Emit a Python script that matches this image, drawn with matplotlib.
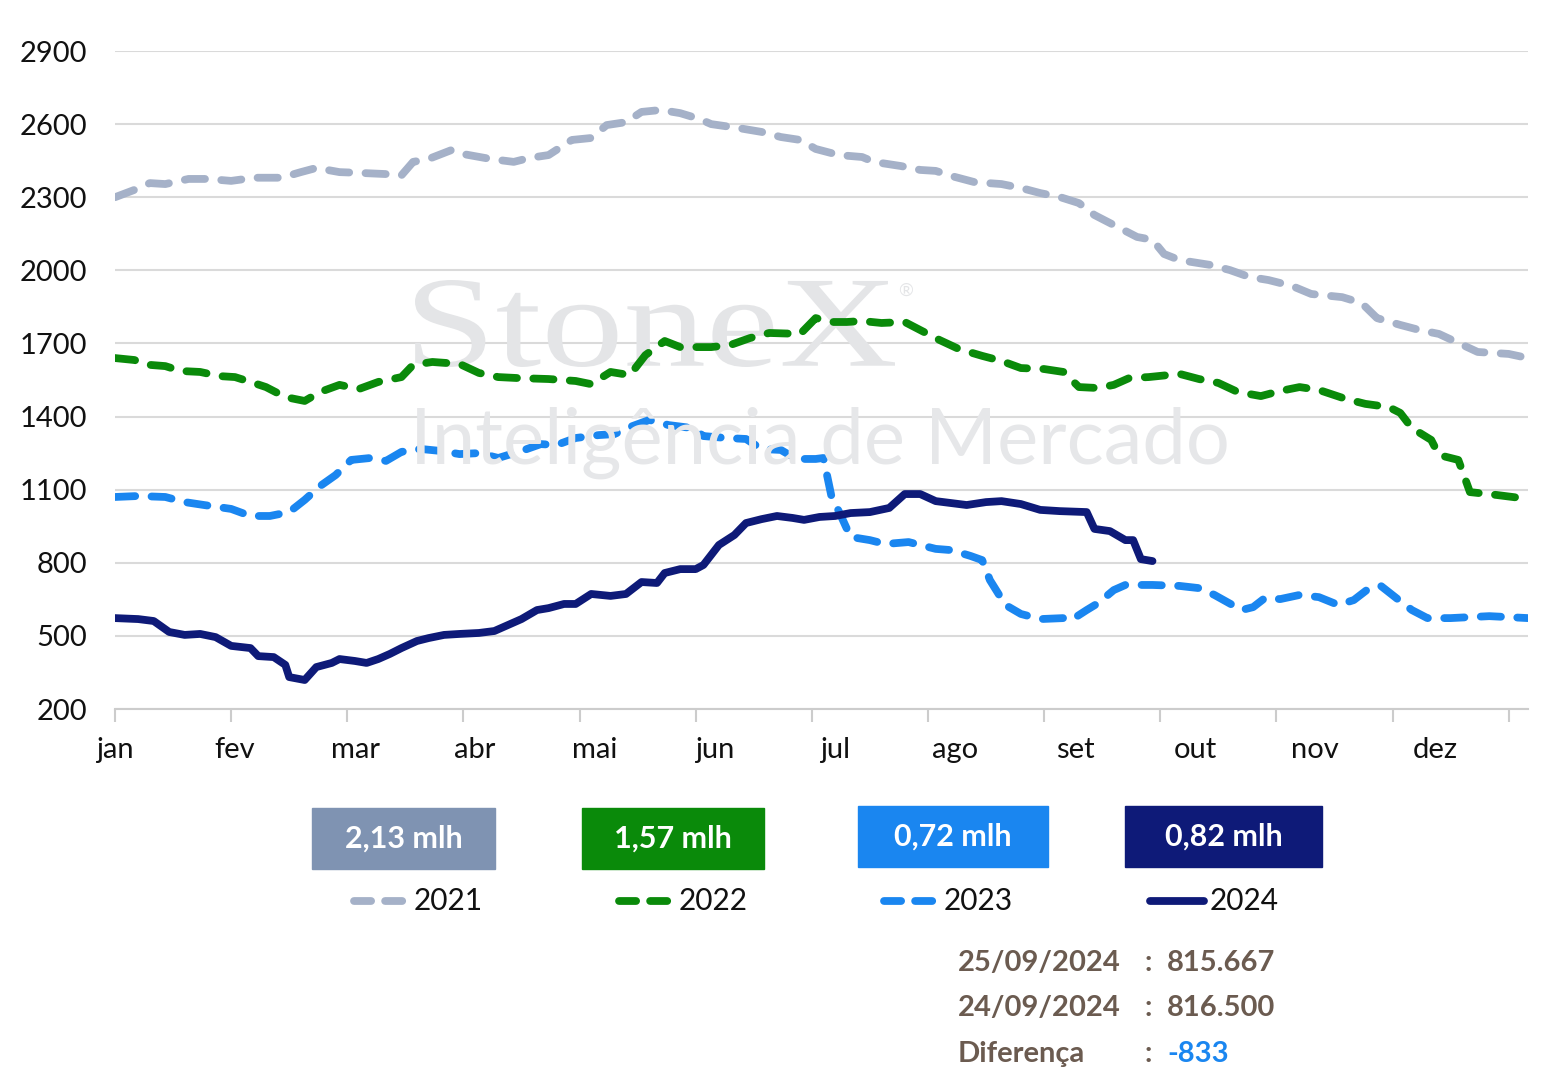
import numpy as np
import matplotlib.pyplot as plt
from matplotlib.textpath import TextPath
from matplotlib.patches import PathPatch
from matplotlib.font_manager import FontProperties
from matplotlib.transforms import Affine2D

# dias do ano (0 = 1 jan) e estoques
d2021 = [0, 5, 9, 13, 19, 24, 30, 36, 43, 48, 52, 58, 63, 70, 74, 77, 81, 87, 90, 97, 103, 107, 112,
         118, 123, 127, 132, 136, 141, 146, 151, 154, 161, 167, 172, 177, 181, 187, 193, 196, 203, 208,
         212, 217, 222, 229, 234, 239, 244, 249, 253, 258, 264, 268, 271, 275, 283, 288, 293, 298, 304,
         309, 317, 322, 326, 332, 337, 342, 347, 352, 360, 365]
v2021 = [2300, 2330, 2358, 2354, 2375, 2375, 2367, 2380, 2380, 2403, 2420, 2403, 2400, 2395, 2390,
         2445, 2457, 2494, 2477, 2457, 2445, 2461, 2473, 2535, 2543, 2596, 2608, 2650, 2658, 2645, 2621,
         2600, 2584, 2568, 2547, 2535, 2498, 2473, 2465, 2445, 2428, 2412, 2408, 2383, 2362, 2354, 2338,
         2317, 2301, 2276, 2227, 2186, 2137, 2125, 2067, 2042, 2022, 2001, 1973, 1960, 1936, 1903, 1890,
         1866, 1804, 1776, 1755, 1739, 1702, 1665, 1657, 1640]

d2022 = [0, 5, 9, 13, 17, 22, 27, 31, 35, 39, 44, 49, 53, 58, 63, 68, 74, 77, 82, 89, 94, 99, 104,
         112, 119, 123, 128, 133, 137, 142, 146, 154, 159, 164, 169, 177, 181, 185, 189, 193, 198, 204,
         208, 213, 218, 224, 229, 234, 240, 245, 249, 254, 258, 262, 267, 275, 280, 285, 290, 296, 301,
         306, 311, 318, 323, 329, 332, 335, 340, 342, 347, 350, 357, 363]
v2022 = [1640, 1632, 1612, 1607, 1587, 1583, 1566, 1562, 1542, 1521, 1480, 1464, 1501, 1530, 1513,
         1542, 1562, 1612, 1624, 1616, 1579, 1562, 1558, 1554, 1546, 1533, 1583, 1570, 1652, 1710, 1685,
         1685, 1694, 1722, 1743, 1739, 1804, 1788, 1788, 1792, 1784, 1788, 1755, 1714, 1677, 1649, 1628,
         1599, 1595, 1583, 1521, 1517, 1530, 1558, 1562, 1575, 1554, 1538, 1501, 1484, 1505, 1521, 1509,
         1472, 1452, 1439, 1415, 1353, 1304, 1242, 1222, 1090, 1078, 1066]

d2023 = [0, 6, 13, 18, 23, 30, 35, 40, 45, 49, 53, 57, 61, 66, 70, 74, 79, 84, 89, 94, 99, 105, 110,
         114, 119, 125, 129, 133, 138, 143, 149, 152, 158, 163, 167, 172, 176, 181, 183, 185, 188, 190,
         195, 199, 205, 212, 216, 221, 224, 226, 230, 234, 239, 245, 247, 251, 254, 258, 261, 268, 275,
         280, 284, 291, 294, 297, 301, 306, 311, 316, 320, 324, 327, 331, 335, 339, 345, 350, 355, 365]
v2023 = [1070, 1074, 1070, 1049, 1037, 1021, 992, 992, 1008, 1058, 1115, 1160, 1222, 1230, 1218, 1255,
         1267, 1259, 1246, 1250, 1230, 1259, 1287, 1283, 1312, 1324, 1328, 1357, 1386, 1365, 1353, 1320,
         1312, 1308, 1267, 1263, 1226, 1226, 1230, 1078, 976, 906, 893, 877, 885, 857, 852, 828, 811, 729,
         627, 590, 569, 573, 565, 606, 635, 688, 709, 709, 705, 696, 668, 606, 618, 655, 651, 668, 659,
         627, 647, 696, 705, 655, 606, 573, 573, 577, 581, 573]

d2024 = [0, 6, 10, 14, 18, 22, 26, 30, 35, 37, 41, 44, 45, 49, 52, 56, 58, 62, 65, 68, 71, 74, 78, 81,
         85, 89, 94, 98, 101, 105, 109, 112, 116, 119, 123, 128, 132, 136, 140, 142, 146, 150, 152, 156,
         160, 163, 167, 171, 175, 178, 182, 186, 190, 195, 200, 204, 208, 212, 216, 220, 225, 229, 234,
         239, 244, 251, 253, 257, 261, 263, 265, 268]
v2024 = [573, 569, 561, 516, 504, 508, 495, 459, 450, 417, 413, 381, 331, 319, 372, 389, 405, 397, 389,
         405, 426, 450, 479, 491, 504, 508, 512, 520, 541, 569, 606, 614, 631, 631, 672, 664, 672, 721,
         717, 758, 774, 774, 791, 873, 914, 963, 979, 992, 984, 976, 988, 992, 1004, 1008, 1025, 1082,
         1082, 1053, 1045, 1037, 1049, 1053, 1041, 1017, 1012, 1008, 939, 930, 893, 893, 815, 807]

years = ['2021', '2022', '2023', '2024']
cores = ['#a5b1c8', '#0a8a0a', '#1a86f0', '#0e1a78']
cores_caixa = ['#7f93b2', '#0a8a0a', '#1a86f0', '#0e1a78']
caixa_txt = ['2,13 mlh', '1,57 mlh', '0,72 mlh', '0,82 mlh']
meses = ['jan', 'fev', 'mar', 'abr', 'mai', 'jun', 'jul', 'ago', 'set', 'out', 'nov', 'dez']
yticks = [200, 500, 800, 1100, 1400, 1700, 2000, 2300, 2600, 2900]
resumo = [('25/09/2024', '815.667'), ('24/09/2024', '816.500'), ('Diferença', '-833')]

LW = 5.6
DASH = (2.6, 2.1)
W, H = 1563, 1078

plt.rcParams['font.family'] = ['Lato', 'DejaVu Sans']
fig = plt.figure(figsize=(15.63, 10.78), dpi=100)
ax = fig.add_axes([115 / W, 1 - 709 / H, 1413 / W, 658 / H])

ax.set_xlim(0, 365)
ax.set_ylim(200, 2900)
ax.set_yticks(yticks)
ax.tick_params(axis='y', length=0, labelsize=21, pad=20, colors='#111111')
ax.grid(axis='y', color='#dadada', lw=1.5)
ax.set_axisbelow(True)
for s in ['left', 'right', 'top']:
    ax.spines[s].set_visible(False)
ax.spines['bottom'].set_color('#cccccc')
ax.spines['bottom'].set_linewidth(1.5)
ax.xaxis.remove_overlapping_locs = False
ax.set_xticks(np.arange(0, 366, 30))
ax.set_xticklabels([])
ax.tick_params(axis='x', which='major', length=9, color='#cccccc', width=1.5)
ax.set_xticks(np.arange(0, 12) * 31, minor=True)
ax.set_xticklabels(meses, minor=True)
ax.tick_params(axis='x', which='minor', length=0, labelsize=21, pad=20, colors='#111111')

# marca d'agua: texto esticado para caber na caixa (x 415-895, y 280-367 px)
tp = TextPath((0, 0), 'StoneX', size=100, prop=FontProperties(family='Liberation Serif'))
bb = tp.get_extents()
sx = 4.80 / bb.width
sy = 0.87 / bb.height
tr = Affine2D().translate(-bb.x0, -bb.y0).scale(sx, sy).translate(4.15, (H - 367) / 100)
wm = PathPatch(tp, facecolor='#e4e5e7', edgecolor='none', zorder=0.6, clip_on=False)
wm.set_transform(tr + fig.dpi_scale_trans)
ax.add_artist(wm)
fig.text(898 / W, 1 - 296 / H, '®', fontsize=13, color='#e4e5e7', va='baseline', zorder=0)
fig.text(410 / W, 1 - 464 / H, 'Inteligência de Mercado', fontsize=56,
         color='#e6e7e9', va='baseline', zorder=0)

series = [(d2021, v2021), (d2022, v2022), (d2023, v2023), (d2024, v2024)]
for i, (d, v) in enumerate(series):
    if i < 3:
        ax.plot(d, v, color=cores[i], lw=LW, dashes=DASH, dash_capstyle='round',
                dash_joinstyle='round', label=years[i], zorder=3)
    else:
        ax.plot(d, v, color=cores[i], lw=LW, solid_capstyle='round', solid_joinstyle='round',
                label=years[i], zorder=4)

# caixas
caixas = [(312, 808, 183), (582, 808, 182), (858, 806, 190), (1125, 806, 197)]
for (x0, y0, w), c, t in zip(caixas, cores_caixa, caixa_txt):
    fig.patches.append(plt.Rectangle((x0 / W, 1 - (y0 + 61) / H), w / W, 61 / H,
                                     transform=fig.transFigure, color=c))
    fig.text((x0 + w / 2) / W, 1 - (y0 + 31) / H, t, ha='center', va='center',
             fontsize=22, color='white', weight='bold')

# legenda manual
leg_x = [350, 615, 880, 1146]
for x0, c, y, i in zip(leg_x, cores, years, range(4)):
    yy = 1 - 901 / H
    if i < 3:
        fig.add_artist(plt.Line2D([(x0 + 4) / W, (x0 + 58) / W], [yy, yy], color=c, lw=LW,
                                  dashes=(2.2, 1.8), dash_capstyle='round'))
    else:
        fig.add_artist(plt.Line2D([(x0 + 4) / W, (x0 + 58) / W], [yy, yy], color=c, lw=LW,
                                  solid_capstyle='round'))
    fig.text((x0 + 64) / W, yy, y, ha='left', va='center', fontsize=21.5, color='#111111')

# resumo
for k, (a, b) in enumerate(resumo):
    yy = 1 - (963 + 45.5 * k) / H
    fig.text(958 / W, yy, a, fontsize=21, weight='bold', color='#6b5b50', va='center')
    fig.text(1145 / W, yy, ':', fontsize=21, weight='bold', color='#6b5b50', va='center')
    fig.text(1167 / W, yy, b, fontsize=21, weight='bold', va='center',
             color='#1a86f0' if k == 2 else '#6b5b50')

fig.savefig('out.png', dpi=100, facecolor='white')
